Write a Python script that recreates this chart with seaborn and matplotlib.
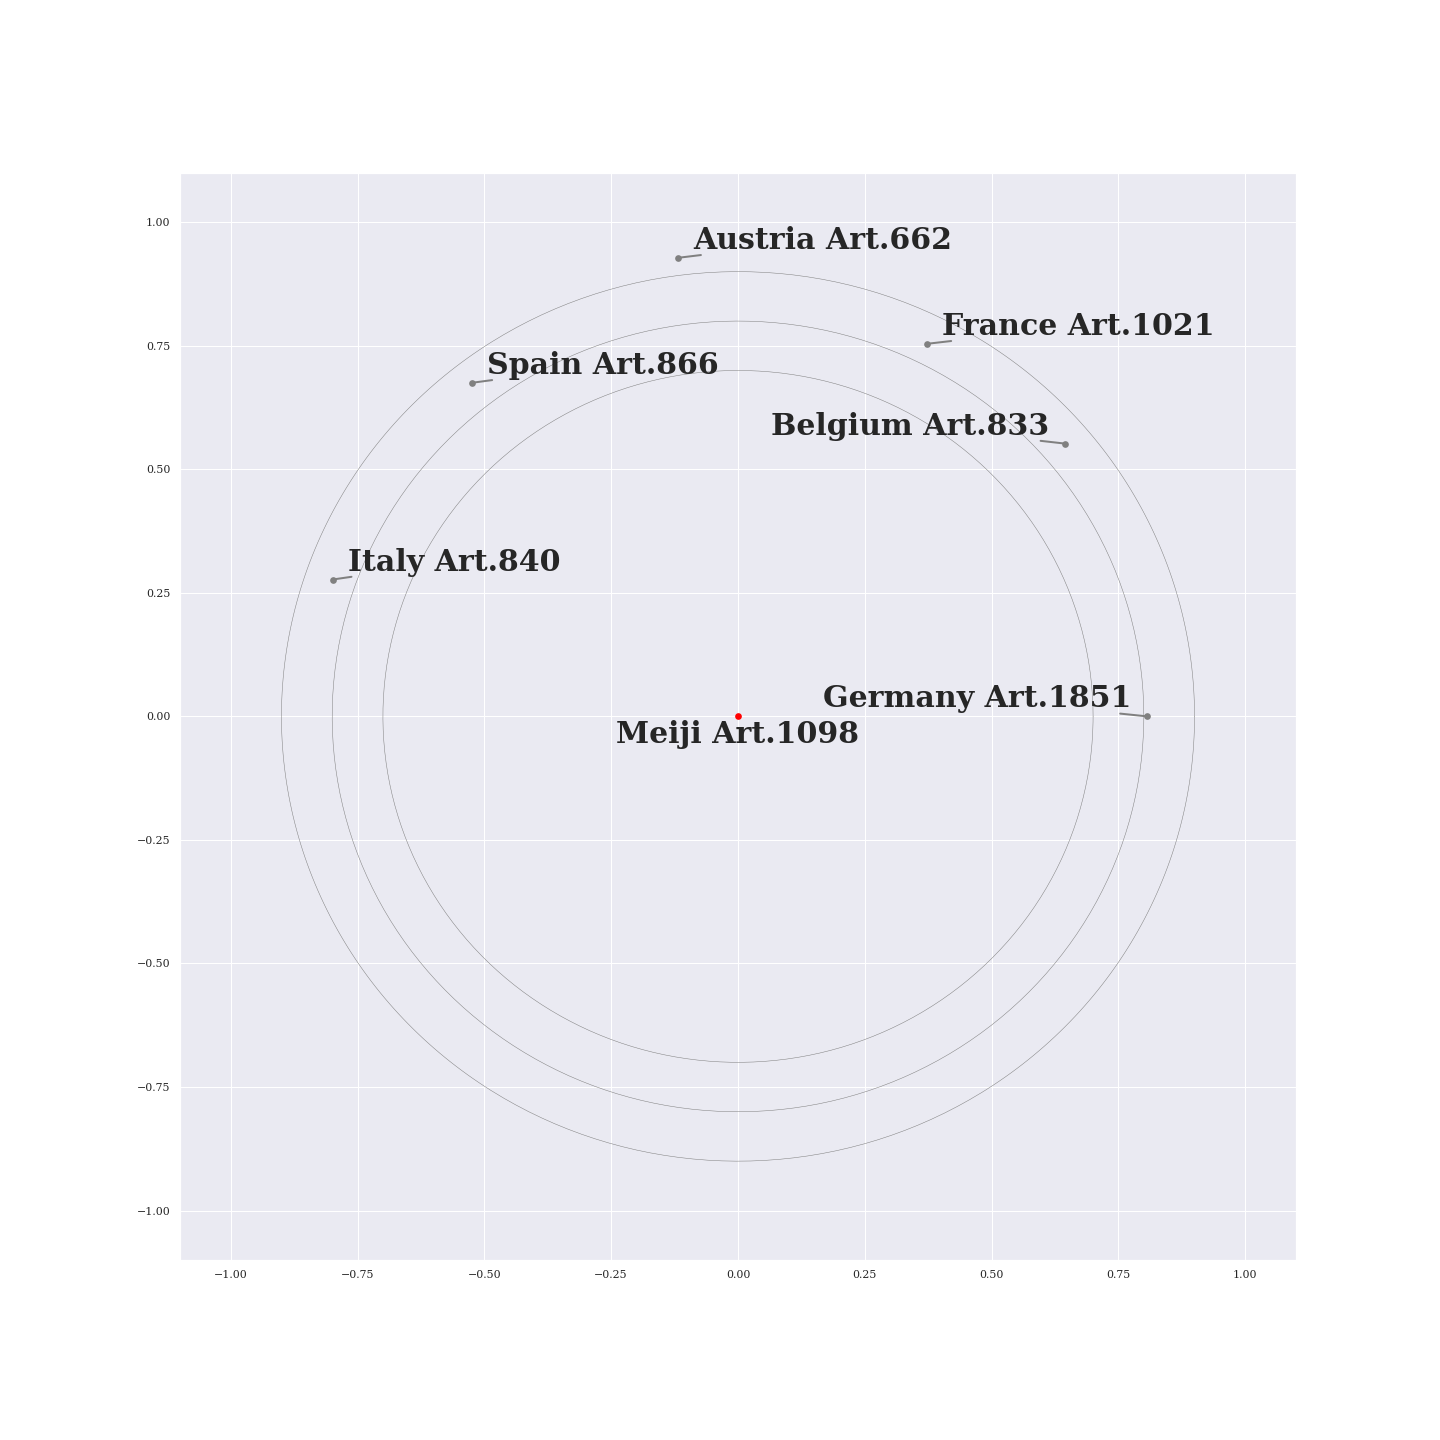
import matplotlib
matplotlib.use('Agg')
import matplotlib.pyplot as plt
import seaborn as sns
import pandas as pd
import numpy as np


# country constitutions compared to the Meiji one
countries = ['Austria', 'France', 'Spain', 'Belgium', 'Italy', 'Germany']
articles = [662, 1021, 866, 833, 840, 1851]
x_pos = [-0.118, 0.373, -0.525, 0.645, -0.799, 0.807]
y_pos = [0.928, 0.754, 0.675, 0.552, 0.277, 0.0]
label_side = ['right', 'right', 'right', 'left', 'right', 'left']

center_name = 'Meiji'
center_article = 1098

ring_radii = [0.7, 0.8, 0.9]


sns.set_theme(style='darkgrid')
plt.rcParams['font.family'] = ['DejaVu Serif']

df = pd.DataFrame({'country': countries, 'article': articles, 'x': x_pos, 'y': y_pos})

fig = plt.figure(figsize=(20, 20), dpi=72)
ax = fig.add_axes([0.125, 0.125, 0.775, 0.755])

# reference rings
theta = np.linspace(0, 2 * np.pi, 400)
for r in ring_radii:
    ax.plot(r * np.cos(theta), r * np.sin(theta), color='grey', lw=0.5, zorder=1)

sns.scatterplot(data=df, x='x', y='y', color='grey', s=45, linewidth=0, ax=ax, zorder=3)
sns.scatterplot(x=[0.0], y=[0.0], color='red', s=45, linewidth=0, ax=ax, zorder=3)

# invisible box so the connector stops at the text edge
no_box = dict(boxstyle='square,pad=0', fc='none', ec='none')

for i, row in df.iterrows():
    if label_side[i] == 'right':
        offset, ha = (15, 9), 'left'
    else:
        offset, ha = (-16, 9), 'right'
    ax.annotate(f"{row['country']} Art.{row['article']}",
                xy=(row['x'], row['y']), xytext=offset, textcoords='offset points',
                ha=ha, fontsize=30, fontweight='bold', color='#262626', bbox=no_box,
                arrowprops=dict(arrowstyle='-', color='grey', lw=2))

ax.annotate(f"{center_name} Art.{center_article}", xy=(0, 0), xytext=(0, -27),
            textcoords='offset points', ha='center', fontsize=30,
            fontweight='bold', color='#262626')

ax.set_xlim(-1.1, 1.1)
ax.set_ylim(-1.1, 1.1)
ax.set_xlabel('')
ax.set_ylabel('')

plt.savefig('out.png', dpi=72)
plt.close()
